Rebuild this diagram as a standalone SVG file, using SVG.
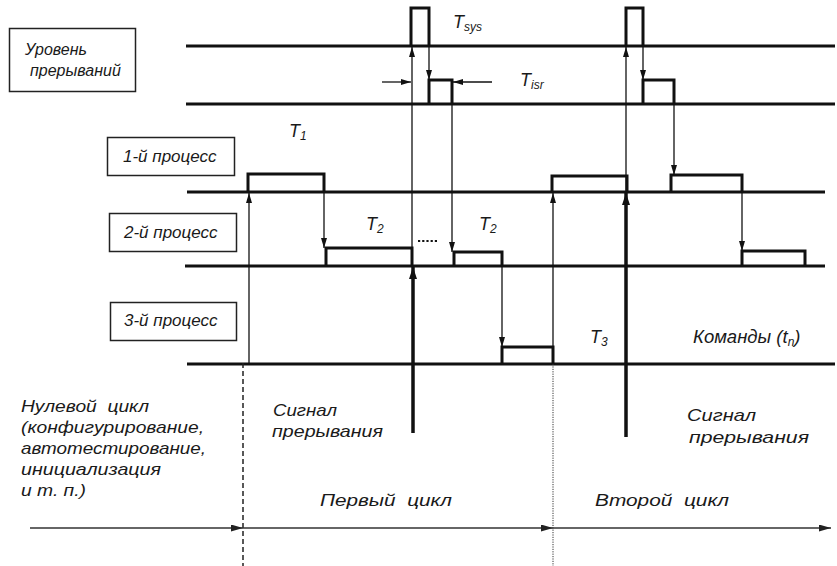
<svg xmlns="http://www.w3.org/2000/svg" width="837" height="566" viewBox="0 0 837 566">
<defs>
<style>
.bg{fill:#fff}
.ln{stroke:#111;stroke-width:3;fill:none}
.pulse{stroke:#111;stroke-width:3;fill:none;stroke-linejoin:miter}
.thin{stroke:#111;stroke-width:1.3;fill:none}
.thick{stroke:#111;stroke-width:3.5;fill:none}
.box{fill:none;stroke:#222;stroke-width:1.5}
.axis{stroke:#333;stroke-width:1.6;fill:none}
text{font-family:"Liberation Sans",Arial,sans-serif;font-style:italic;fill:#1a1a1a;font-size:17px}
.lbl{font-size:16px}
.T{font-size:18px}
.sub{font-size:12px}
</style>
<marker id="ah" viewBox="0 0 10 6" refX="10" refY="3" markerWidth="10" markerHeight="6" orient="auto" markerUnits="userSpaceOnUse"><path d="M0,0 L10,3 L0,6 z" fill="#111"/></marker>
<marker id="ahb" viewBox="0 0 12 8" refX="12" refY="4" markerWidth="12" markerHeight="8" orient="auto" markerUnits="userSpaceOnUse"><path d="M0,0 L12,4 L0,8 z" fill="#111"/></marker>
<marker id="aha" viewBox="0 0 12 7" refX="12" refY="3.5" markerWidth="12" markerHeight="7" orient="auto" markerUnits="userSpaceOnUse"><path d="M0,0 L12,3.5 L0,7 z" fill="#222"/></marker>
</defs>
<rect class="bg" x="0" y="0" width="837" height="566"/>

<g id="levels">
<line class="ln" x1="186" y1="46" x2="835" y2="46"/>
<line class="ln" x1="186" y1="104" x2="835" y2="104"/>
<line class="ln" x1="187" y1="192" x2="825" y2="192"/>
<line class="ln" x1="185" y1="266" x2="825" y2="266"/>
<line class="ln" x1="187" y1="364" x2="835" y2="364"/>
</g>

<g id="label-interrupt">
<rect class="box" x="9.5" y="28.5" width="126" height="63"/>
<text class="lbl" x="25" y="55">Уровень</text>
<text class="lbl" x="30" y="76">прерываний</text>
</g>
<g id="label-p1">
<rect class="box" x="107.5" y="137.5" width="127" height="38"/>
<text x="123" y="162">1-й процесс</text>
</g>
<g id="label-p2">
<rect class="box" x="109.5" y="213.5" width="127" height="38"/>
<text x="124" y="238">2-й процесс</text>
</g>
<g id="label-p3">
<rect class="box" x="110.5" y="302.5" width="126" height="38"/>
<text x="124" y="326">3-й процесс</text>
</g>

<g id="tsys1"><path class="pulse" d="M411,46 V8 H429 V46"/></g>
<g id="tisr1"><path class="pulse" d="M429,104 V80 H452 V104"/></g>
<g id="tsys2"><path class="pulse" d="M626,46 V8 H643 V46"/></g>
<g id="tisr2"><path class="pulse" d="M643,104 V80 H674 V104"/></g>
<g id="p1-a"><path class="pulse" d="M248,192 V174 H324 V192"/></g>
<g id="p2-a"><path class="pulse" d="M326,266 V248 H412 V266"/></g>
<g id="p2-b"><path class="pulse" d="M454,266 V252 H502 V266"/></g>
<g id="p3-a"><path class="pulse" d="M502,364 V347 H553 V364"/></g>
<g id="p1-b"><path class="pulse" d="M552,192 V176 H627 V192"/></g>
<g id="p1-c"><path class="pulse" d="M671,192 V175 H742 V192"/></g>
<g id="p2-c"><path class="pulse" d="M742,266 V251 H805 V266"/></g>

<g id="connectors">
<line class="thin" x1="249" y1="364" x2="249" y2="193" marker-end="url(#ah)"/>
<line class="thin" x1="324" y1="192" x2="324" y2="248" marker-end="url(#ah)"/>
<line class="thin" x1="412" y1="266" x2="412" y2="47" marker-end="url(#ah)"/>
<line class="thin" x1="429" y1="46" x2="429" y2="80" marker-end="url(#ah)"/>
<line class="thin" x1="382" y1="82" x2="411" y2="82" marker-end="url(#ah)"/>
<line class="thin" x1="492" y1="82" x2="453" y2="82" marker-end="url(#ah)"/>
<line class="thin" x1="452" y1="104" x2="452" y2="252" marker-end="url(#ah)"/>
<line class="thin" x1="502" y1="266" x2="502" y2="347" marker-end="url(#ah)"/>
<line class="thin" x1="553" y1="364" x2="553" y2="193" marker-end="url(#ah)"/>
<line class="thin" x1="626" y1="192" x2="626" y2="47" marker-end="url(#ah)"/>
<line class="thin" x1="643" y1="46" x2="643" y2="80" marker-end="url(#ah)"/>
<line class="thin" x1="674" y1="104" x2="674" y2="175" marker-end="url(#ah)"/>
<line class="thin" x1="742" y1="192" x2="742" y2="251" marker-end="url(#ah)"/>
<line class="thick" x1="413" y1="433" x2="413" y2="267" marker-end="url(#ahb)"/>
<line class="thick" x1="626" y1="437" x2="626" y2="193" marker-end="url(#ahb)"/>
<line x1="418" y1="241" x2="438" y2="241" stroke="#111" stroke-width="2" stroke-dasharray="2.2 2"/>
<line x1="243" y1="363" x2="243" y2="566" stroke="#222" stroke-width="1.5" stroke-dasharray="5 3"/>
<line x1="553" y1="364" x2="553" y2="566" stroke="#333" stroke-width="1" stroke-dasharray="1.2 1.2"/>
<line class="axis" x1="30" y1="528" x2="243" y2="528" marker-end="url(#aha)"/>
<line class="axis" x1="243" y1="528" x2="553" y2="528" marker-end="url(#aha)"/>
<line class="axis" x1="553" y1="528" x2="831" y2="528" marker-end="url(#aha)"/>
</g>

<g id="time-labels">
<text class="T" x="289" y="137">T<tspan class="sub" dy="3">1</tspan></text>
<text class="T" x="366" y="230">T<tspan class="sub" dy="3">2</tspan></text>
<text class="T" x="479" y="230">T<tspan class="sub" dy="3">2</tspan></text>
<text class="T" x="453" y="28">T<tspan class="sub" dy="3">sys</tspan></text>
<text class="T" x="520" y="86">T<tspan class="sub" dy="3">isr</tspan></text>
<text class="T" x="590" y="343">T<tspan class="sub" dy="3">3</tspan></text>
<text x="693" y="343" style="font-size:18.5px">Команды (<tspan>t</tspan><tspan class="sub" dy="3">n</tspan><tspan dy="-3">)</tspan></text>
</g>

<g id="zero-cycle">
<text x="21" y="412" xml:space="preserve" textLength="128" lengthAdjust="spacingAndGlyphs">Нулевой  цикл</text>
<text x="21" y="433" textLength="183" lengthAdjust="spacingAndGlyphs">(конфигурирование,</text>
<text x="21" y="454" textLength="185" lengthAdjust="spacingAndGlyphs">автотестирование,</text>
<text x="21" y="475" textLength="140" lengthAdjust="spacingAndGlyphs">инициализация</text>
<text x="21" y="496" textLength="65" lengthAdjust="spacingAndGlyphs">и т. п.)</text>
</g>
<g id="signal-1">
<text x="273" y="416" textLength="64" lengthAdjust="spacingAndGlyphs">Сигнал</text>
<text x="272" y="437" textLength="111" lengthAdjust="spacingAndGlyphs">прерывания</text>
</g>
<g id="signal-2">
<text x="687" y="421" textLength="69" lengthAdjust="spacingAndGlyphs">Сигнал</text>
<text x="689" y="443" textLength="120" lengthAdjust="spacingAndGlyphs">прерывания</text>
</g>
<g id="cycle-1"><text x="320" y="506" xml:space="preserve" textLength="132" lengthAdjust="spacingAndGlyphs">Первый  цикл</text></g>
<g id="cycle-2"><text x="595" y="506" xml:space="preserve" textLength="134" lengthAdjust="spacingAndGlyphs">Второй  цикл</text></g>
</svg>
